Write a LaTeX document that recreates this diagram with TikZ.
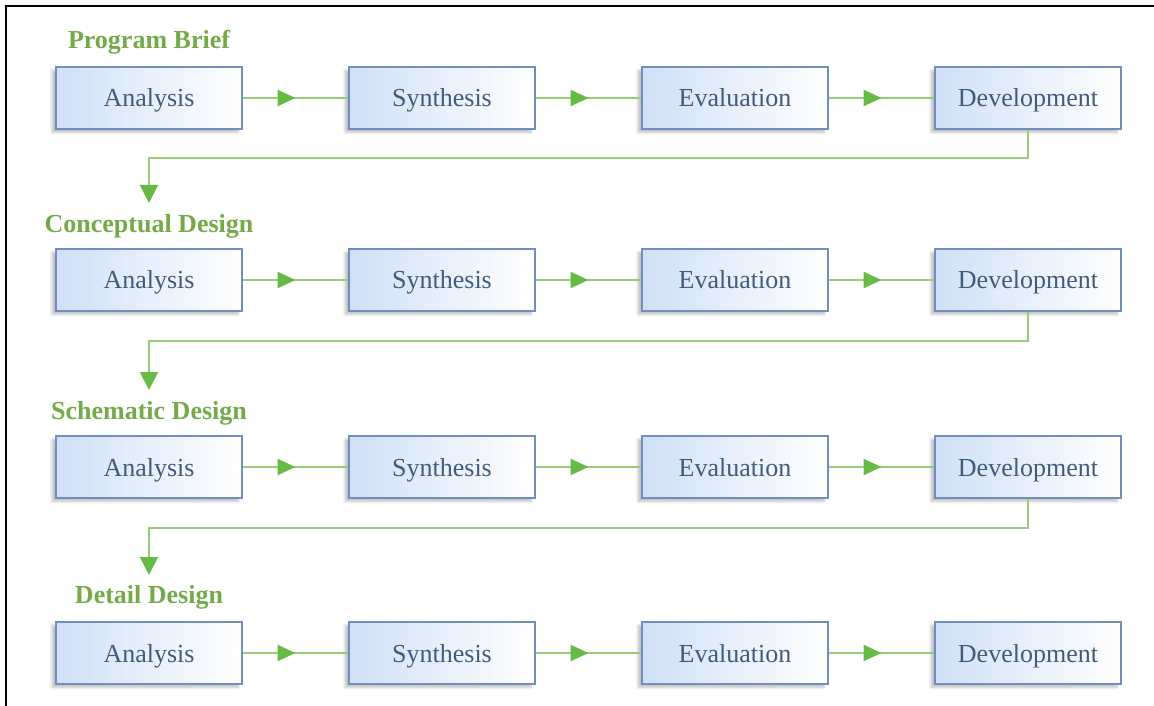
\documentclass[tikz,border=0pt]{standalone}
\usepackage{fontspec}
\setmainfont{Liberation Serif}
\usetikzlibrary{arrows.meta,decorations.markings,shadows.blur}

\definecolor{boxline}{RGB}{112,142,190}
\definecolor{boxfill}{RGB}{208,224,247}
\definecolor{boxtext}{RGB}{66,92,124}
\definecolor{flowgreen}{RGB}{150,206,120}
\definecolor{tipgreen}{RGB}{104,186,70}
\definecolor{stagegreen}{RGB}{116,170,74}

\tikzset{
  stepbox/.style={draw=boxline, line width=1.3pt, left color=boxfill, right color=white,
    minimum width=139.5pt, minimum height=46.5pt, inner sep=0pt, text=boxtext,
    text height=16pt, text depth=2.5pt,
    font=\fontsize{19.5}{23}\selectfont,
    blur shadow={shadow xshift=-3pt, shadow yshift=-2.5pt, shadow blur steps=6, shadow opacity=25}},
  stage/.style={text=stagegreen, inner sep=0.75pt, font=\fontsize{19.5}{23}\selectfont\bfseries},
  flow/.style={draw=flowgreen, line width=1.8pt, postaction={decorate},
    decoration={markings, mark=at position 0.5 with {\arrow[tipgreen]{Triangle[length=13.5pt,width=12pt]}}}},
  drop/.style={draw=flowgreen, line width=1.5pt, -{Triangle[length=13.5pt,width=13.5pt,color=tipgreen]}}
}

\begin{document}
\begin{tikzpicture}[x=0.75pt,y=0.75pt,yscale=-1,xscale=1]
\useasboundingbox (0,0) rectangle (1154,706);
% frame
\draw[line width=1.5pt] (6,706) -- (6,6) -- (1154,6);

% Program Brief
\node[stage] (pb) at (149,42) {Program Brief};
\node[stepbox] (a1) at (149,98) {Analysis};
\node[stepbox] (s1) at (442,98) {Synthesis};
\node[stepbox] (e1) at (735,98) {Evaluation};
\node[stepbox] (d1) at (1028,98) {Development};
\draw[flow] (a1) -- (s1);
\draw[flow] (s1) -- (e1);
\draw[flow] (e1) -- (d1);
\coordinate (t1) at (149,203);
\draw[drop] (d1.south) -- ++(0,28) -| (t1);

% Conceptual Design
\node[stage] (cd) at (149,226) {Conceptual Design};
\node[stepbox] (a2) at (149,280) {Analysis};
\node[stepbox] (s2) at (442,280) {Synthesis};
\node[stepbox] (e2) at (735,280) {Evaluation};
\node[stepbox] (d2) at (1028,280) {Development};
\draw[flow] (a2) -- (s2);
\draw[flow] (s2) -- (e2);
\draw[flow] (e2) -- (d2);
\coordinate (t2) at (149,390);
\draw[drop] (d2.south) -- ++(0,29) -| (t2);

% Schematic Design
\node[stage] (sd) at (149,413) {Schematic Design};
\node[stepbox] (a3) at (149,467) {Analysis};
\node[stepbox] (s3) at (442,467) {Synthesis};
\node[stepbox] (e3) at (735,467) {Evaluation};
\node[stepbox] (d3) at (1028,467) {Development};
\draw[flow] (a3) -- (s3);
\draw[flow] (s3) -- (e3);
\draw[flow] (e3) -- (d3);
\coordinate (t3) at (149,575);
\draw[drop] (d3.south) -- ++(0,29) -| (t3);

% Detail Design
\node[stage] (dd) at (149,597) {Detail Design};
\node[stepbox] (a4) at (149,653) {Analysis};
\node[stepbox] (s4) at (442,653) {Synthesis};
\node[stepbox] (e4) at (735,653) {Evaluation};
\node[stepbox] (d4) at (1028,653) {Development};
\draw[flow] (a4) -- (s4);
\draw[flow] (s4) -- (e4);
\draw[flow] (e4) -- (d4);

\end{tikzpicture}
\end{document}
